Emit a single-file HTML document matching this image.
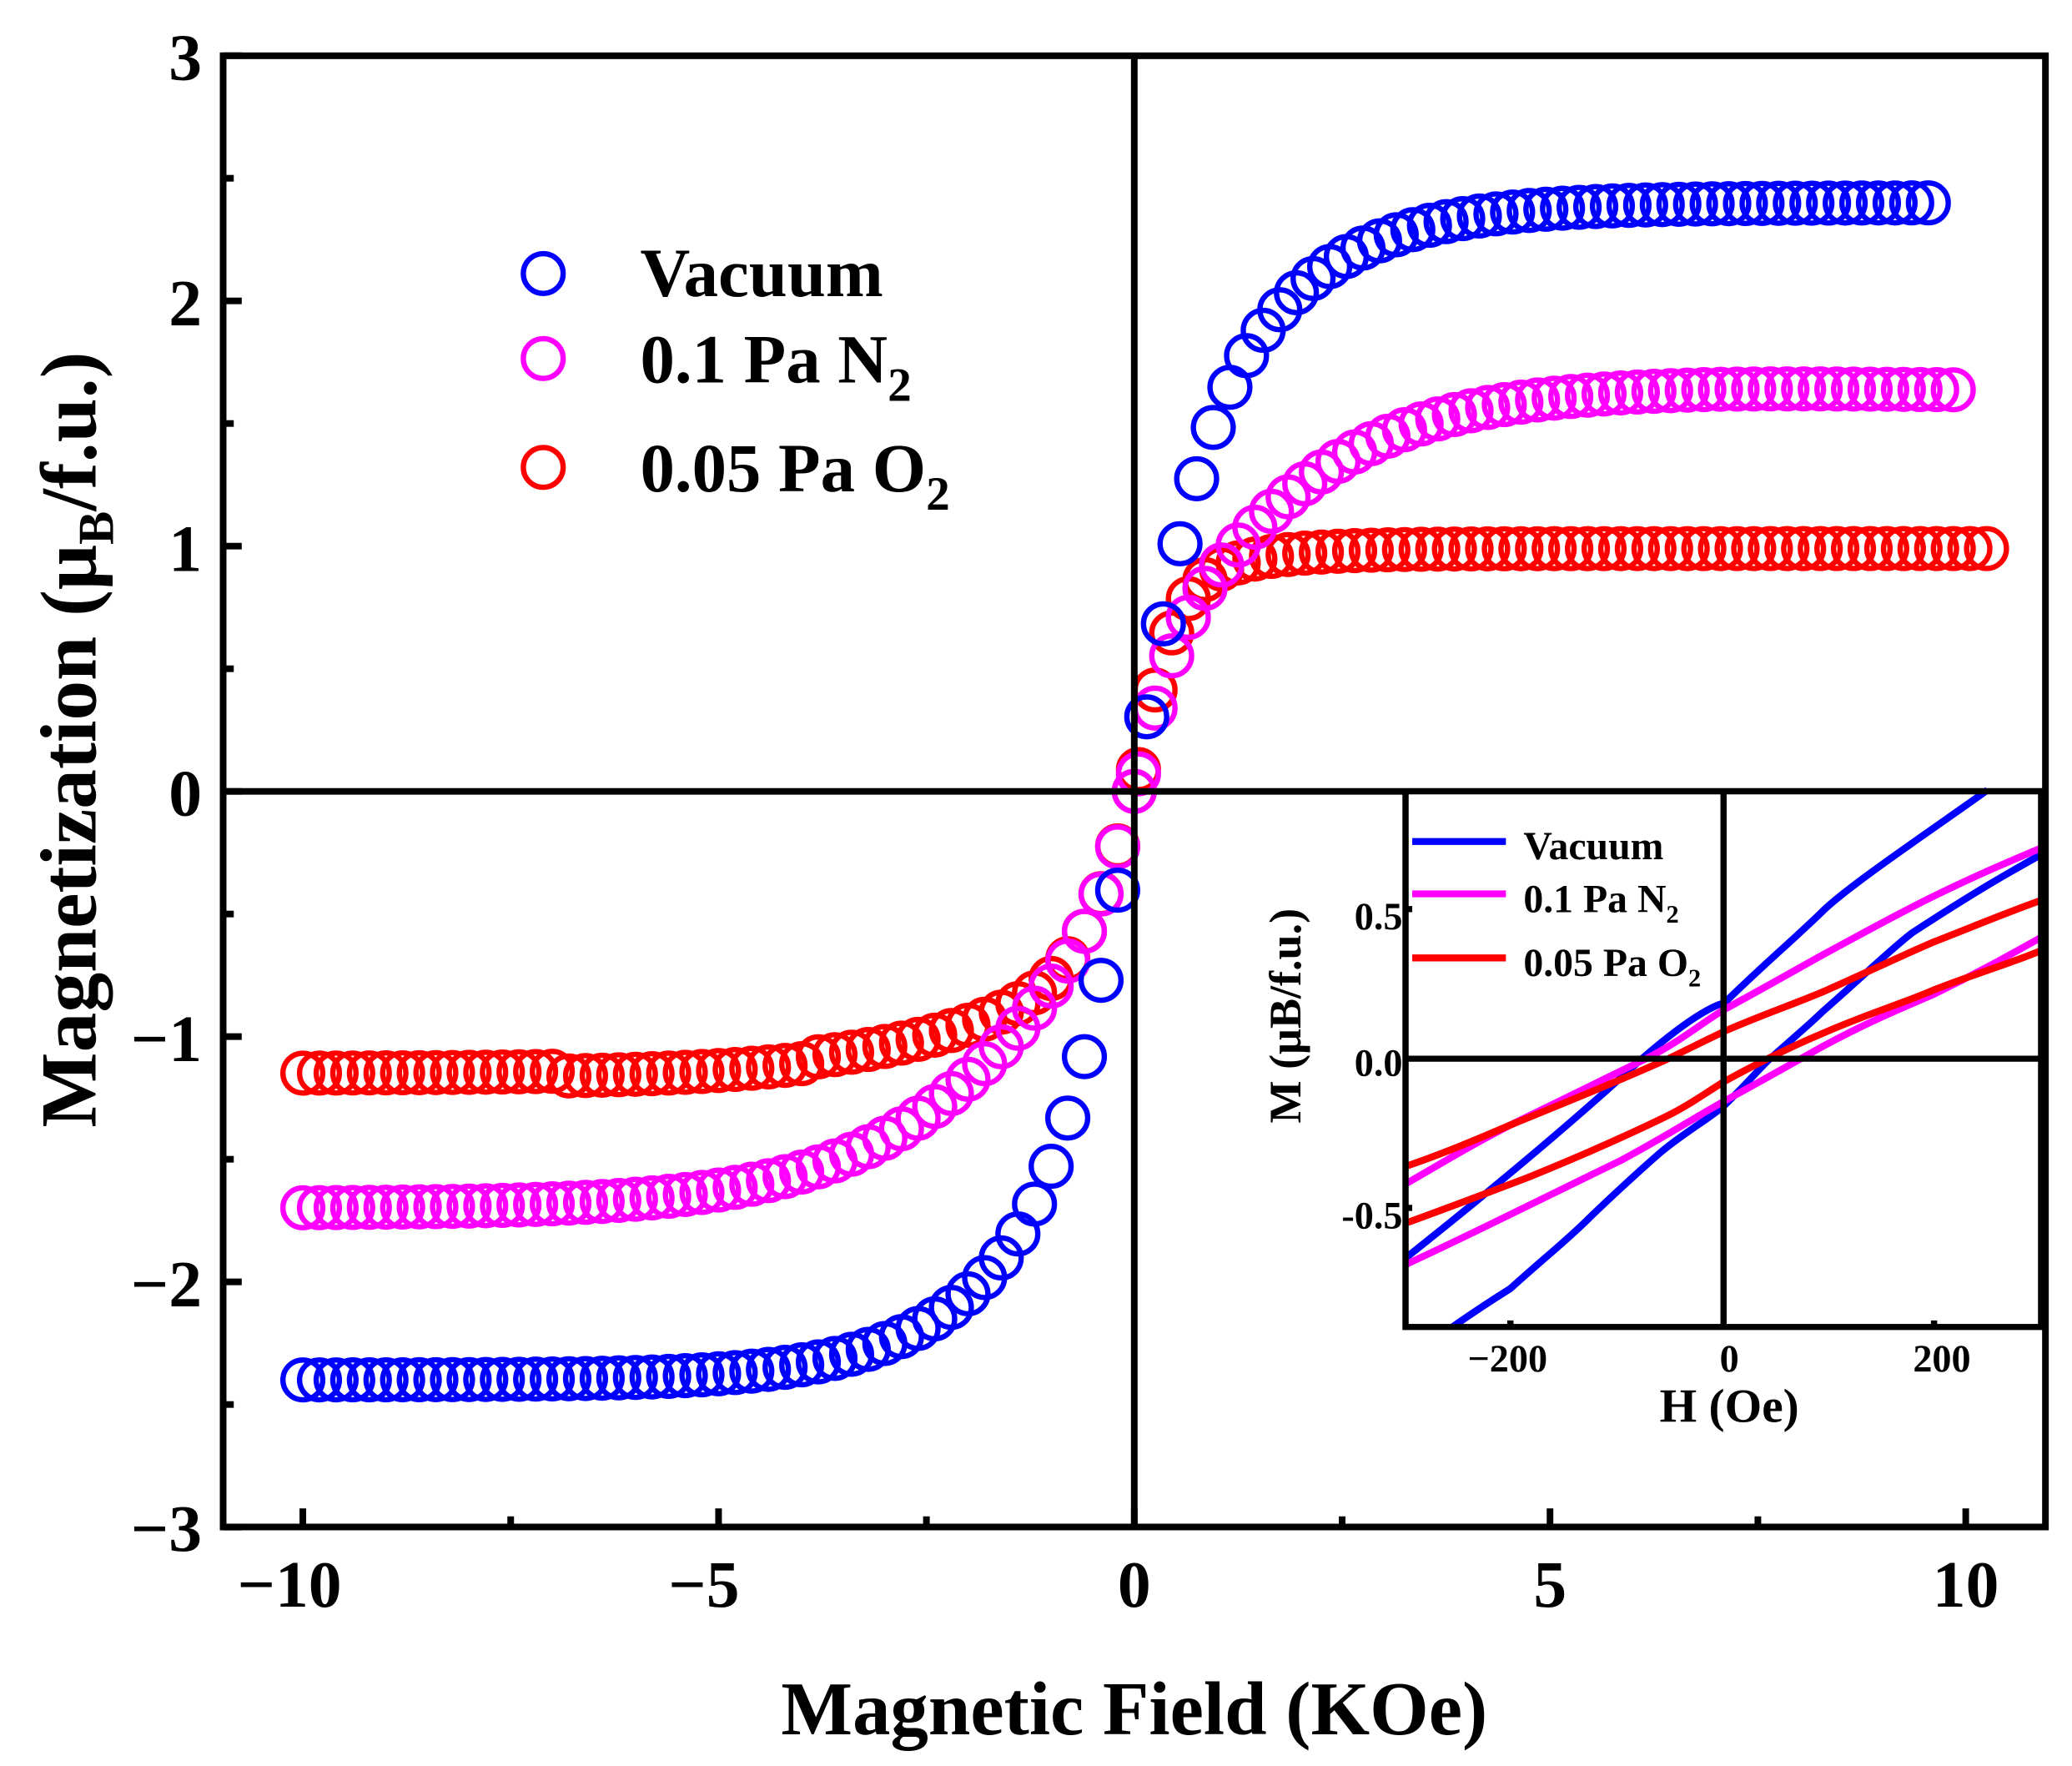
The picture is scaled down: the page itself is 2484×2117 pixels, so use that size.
<!DOCTYPE html>
<html><head><meta charset="utf-8"><style>html,body{margin:0;padding:0;background:#fff}svg{display:block}</style></head><body>
<svg id="s" width="2484" height="2117" viewBox="0 0 1560 1330" preserveAspectRatio="none" xmlns="http://www.w3.org/2000/svg" font-family="Liberation Serif, serif" font-weight="bold">
<g id="pts" fill="none" stroke-width="4"></g>
<g stroke="#000" stroke-width="5" fill="none">
<rect x="168" y="42" width="1372" height="1108"/>
<line x1="854" y1="42" x2="854" y2="1150"/>
<line x1="168" y1="596" x2="1540" y2="596"/>
</g>
<g id="ticks" stroke="#000" stroke-width="5"></g>
<g font-size="50" text-anchor="end">
<text x="152" y="60">3</text><text x="152" y="245">2</text><text x="152" y="430">1</text><text x="152" y="614">0</text>
<text x="152" y="799">−1</text><text x="152" y="984">−2</text><text x="152" y="1168">−3</text>
</g>
<g font-size="50" text-anchor="middle">
<text x="218" y="1210">−10</text><text x="530" y="1210">−5</text><text x="854" y="1210">0</text><text x="1167" y="1210">5</text><text x="1480" y="1210">10</text>
</g>
<text x="854" y="1306" font-size="57" text-anchor="middle">Magnetic Field (KOe)</text>
<text transform="translate(72,557) rotate(-90)" font-size="60" text-anchor="middle">Magnetization (μ<tspan font-size="38" dy="13">B</tspan><tspan dy="-13">/f.u.)</tspan></text>
<circle cx="409" cy="206" r="15" fill="none" stroke="#0000ff" stroke-width="4"/>
<circle cx="409" cy="270" r="15" fill="none" stroke="#ff00ff" stroke-width="4"/>
<circle cx="409" cy="352" r="15" fill="none" stroke="#ff0000" stroke-width="4"/>
<g font-size="52">
<text x="482" y="223">Vacuum</text>
<text x="482" y="288">0.1 Pa N<tspan font-size="36" dy="14">2</tspan></text>
<text x="482" y="370">0.05 Pa O<tspan font-size="36" dy="14">2</tspan></text>
</g>
<rect x="1060" y="598" width="478" height="403" fill="#fff"/>
<g transform="translate(1036.4,577.9) scale(0.3358,0.3285)">
<g fill="none" stroke-width="16" stroke-linejoin="round">
<path stroke="#0000ff" d="M65,1125 C250,975 420,830 560,700 S760,545 780,540 C870,450 940,390 1000,330 S1250,140 1370,52"/>
<path stroke="#0000ff" d="M170,1283 C230,1240 300,1195 300,1195 C370,1130 420,1090 470,1040 S600,915 640,880 C700,830 740,810 780,775 C830,725 850,700 880,670 C940,615 970,590 1000,560 C1100,470 1150,420 1200,380 C1350,280 1420,240 1490,200"/>
<path stroke="#ff00ff" d="M65,955 C150,905 220,862 300,820 C420,760 500,720 600,670 C680,630 730,585 780,555 C870,505 930,470 1000,430 C1100,375 1170,335 1250,295 C1350,245 1420,215 1490,185"/>
<path stroke="#ff00ff" d="M65,1140 C150,1100 220,1065 300,1025 C400,975 470,940 550,900 C650,845 710,805 780,765 C870,715 930,680 1000,640 C1100,585 1170,555 1250,520 C1350,470 1420,430 1490,390"/>
<path stroke="#ff0000" d="M65,915 C150,885 220,855 300,820 C420,770 540,720 650,670 C700,645 740,625 780,605 C870,565 930,545 1000,515 C1100,470 1170,435 1250,400 C1350,360 1420,330 1490,305"/>
<path stroke="#ff0000" d="M65,1045 C160,1010 250,975 340,940 C460,890 560,845 650,800 C700,775 740,745 780,720 C860,675 930,640 1000,610 C1100,565 1170,545 1250,510 C1350,470 1420,450 1490,420"/>
<line stroke="#0000ff" x1="80" y1="170" x2="290" y2="170"/>
<line stroke="#ff00ff" x1="80" y1="290" x2="290" y2="290"/>
<line stroke="#ff0000" x1="80" y1="437" x2="290" y2="437"/>
</g>
<g stroke="#000" stroke-width="14" fill="none">
<rect x="65" y="55" width="1425" height="1228"/>
<line x1="778" y1="55" x2="778" y2="1283"/>
<line x1="65" y1="668" x2="1490" y2="668"/>
<line x1="65" y1="325" x2="80" y2="325"/><line x1="65" y1="1010" x2="80" y2="1010"/>
<line x1="300" y1="1283" x2="300" y2="1268"/><line x1="1250" y1="1283" x2="1250" y2="1268"/>
</g>
</g>
<g font-size="30">
<text x="1147" y="647">Vacuum</text>
<text x="1147" y="687">0.1 Pa N<tspan font-size="19" dy="8">2</tspan></text>
<text x="1147" y="735">0.05 Pa O<tspan font-size="19" dy="8">2</tspan></text>
</g>
<g font-size="29" text-anchor="end">
<text x="1056" y="700">0.5</text><text x="1056" y="810">0.0</text><text x="1056" y="925">-0.5</text>
</g>
<g font-size="29" text-anchor="middle">
<text x="1135" y="1033">−200</text><text x="1302" y="1033">0</text><text x="1462" y="1033">200</text>
</g>
<text x="1302" y="1071" font-size="36" text-anchor="middle">H (Oe)</text>
<text transform="translate(979,765) rotate(-90)" font-size="34" text-anchor="middle">M (μB/f.u.)</text>
</svg>
<script>
(function(){
var g=document.getElementById('pts'),t=document.getElementById('ticks'),NS='http://www.w3.org/2000/svg';
function X(h){return 854+62.6*h}function Y(m){return 596-184.7*m}
function c(h,m,col){var e=document.createElementNS(NS,'circle');e.setAttribute('cx',X(h));e.setAttribute('cy',Y(m));e.setAttribute('r',15);e.setAttribute('stroke',col);g.appendChild(e);}
var T=Math.tanh,h;
for(h=-10;h<0;h+=0.2){var a=-h;var m=-1.15*(0.6*T(a/0.7)+0.4*T(a/3));if(h<-4&&h>-7)m-=0.02;c(h,m,'#ff0000');}
for(h=0.05;h<=10.25;h+=0.2)c(h,0.99*(0.85*T(h/0.5)+0.15*T(h/1.5)),'#ff0000');
for(h=-10;h<0;h+=0.2){var a=-h;c(h,-1.7*(0.2*T(a/0.5)+0.8*T(a/2.8)),'#ff00ff');}
for(h=0.05;h<=9.9;h+=0.2){var m=1.65*(0.3*T(h/0.5)+0.7*T(h/2.6));if(h>7)m-=0.004*(h-7);c(h,m,'#ff00ff');}
for(h=-10;h<-0.1;h+=0.2){var a=-h;c(h,-2.4*(0.5*T(a/0.8)+0.5*T(a/2.2)),'#0000ff');}
for(h=0.15;h<=9.7;h+=0.2)c(h,2.4*(0.5*T(h/0.8)+0.5*T(h/2.2)),'#0000ff');
function tk(x1,y1,x2,y2){var e=document.createElementNS(NS,'line');e.setAttribute('x1',x1);e.setAttribute('y1',y1);e.setAttribute('x2',x2);e.setAttribute('y2',y2);t.appendChild(e);}
for(var v=-3;v<=3;v+=0.5){var y=Y(v),L=(v%1==0)?14:8;tk(168,y,168+L,y);}
for(var v=-10;v<=10;v+=2.5){var x=X(v),L=(v%5==0)?14:8;tk(x,1150,x,1150-L);}
})();
</script>
</body></html>
